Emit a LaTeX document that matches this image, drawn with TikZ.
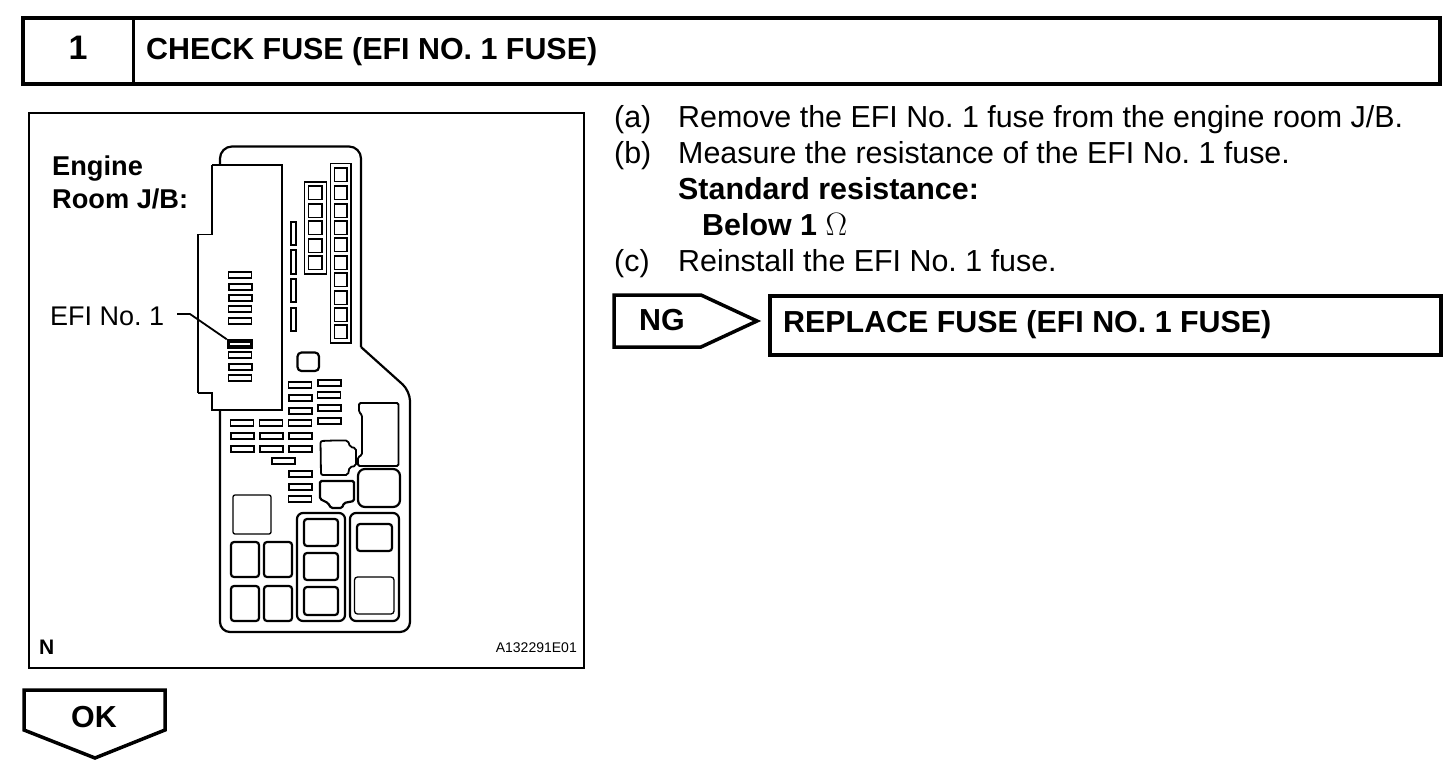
\documentclass[tikz,border=0pt]{standalone}
\usepackage{graphicx}
\usepackage{fontspec}
\setmainfont{Liberation Sans}
\frenchspacing
\tikzset{
    body/.style={anchor=base west, inner sep=0pt, font=\fontsize{30.4}{33}\selectfont},
    head/.style={body, font=\fontsize{30.4}{33}\selectfont\bfseries},
    label/.style={body, font=\fontsize{27}{29}\selectfont},
    fuse/.style={draw, rectangle, inner sep=0pt, minimum width=23pt, minimum height=6pt},
    thin_part/.style={line width=1.3pt},
    thick_part/.style={line width=2.2pt},
}
\begin{document}
\begin{tikzpicture}[x=1pt, y=-1pt, line join=miter]
    \useasboundingbox (0,0) rectangle (1456,772);

    \node[draw, rectangle, line width=4pt, inner sep=0pt, minimum width=1417pt, minimum height=66pt] (title_box) at (731.5,51) {};
    \node[head, anchor=base, font=\fontsize{34}{36}\selectfont\bfseries] (step_no) at (78,59) {1};
    \node[head] (title) at (146,59) {CHECK FUSE (EFI NO. 1 FUSE)};
    \draw[line width=3pt] (title_box.north west -| 133,0) -- (title_box.south west -| 133,0);

    \node[draw, rectangle, line width=2.5pt, inner sep=0pt, minimum width=555pt, minimum height=555pt] (panel) at (306.5,390.5) {};
    \node[head, font=\fontsize{27.2}{30}\selectfont\bfseries] (room_a) at (52,175) {Engine};
    \node[head, font=\fontsize{27.2}{30}\selectfont\bfseries] (room_b) at (52,208) {Room J/B:};
    \node[label] (efi_label) at (50,325) {EFI No. 1};
    \node[head, font=\fontsize{21}{24}\selectfont\bfseries] (corner_n) at (39,654) {N};
    \node[body, font=\fontsize{14}{16}\selectfont, anchor=base east] (part_no) at (577,652) {A132291E01};

    % fuse box
    \draw[thick_part, rounded corners=12pt] (220,165) -- (220,146.5) -- (361,146.5) -- (361,347);
    \draw[thick_part, rounded corners=10pt] (361,347) -- (410,391) -- (410,632) -- (220,632) -- (220,410);
    \draw[thick_part] (212,165) -- (282,165) -- (282,410) -- (212,410) -- (212,393) -- (198,393);
    \draw[thin_part] (212,165) -- (212,234.5) -- (198,234.5) -- (198,393);

    \foreach \y/\w in {275/1.2, 287/2, 298/2, 309/1.4, 321/1.6, 355/1.2, 367/2, 378/1.7}
        \node[fuse, line width=\w pt] (cover_\y) at (240,\y) {};
    \node[fuse, line width=3.4pt] (efi_fuse) at (240,344) {};

    \foreach \a/\b in {222/245, 250/274, 279/302, 308/331}
        \draw[line width=2pt] (290.5,\a) rectangle (295.5,\b);

    \draw[line width=1.8pt] (304.5,182) rectangle (326.5,274);
    \foreach \a in {186,204,221,239,256}
        \draw[line width=1.9pt] (308.5,\a) rectangle (322,\a+13.5);
    \draw[line width=1.8pt] (330.5,163.5) rectangle (351,343);
    \foreach \a in {168,186,204,221,238,256,273,291,308,325}
        \draw[line width=1.9pt] (334.5,\a) rectangle (347,\a+13.5);

    \draw[thick_part, rounded corners=4pt] (297.5,352.5) rectangle (319,371);

    \foreach \x/\y/\w in {300/385/1.2, 300/398/2, 300/411/2, 329/383/2, 329/395/1.2, 329/408/2, 329/421/2,
        242/423/1.2, 271/423/1.2, 300/423/1.2, 242/436/2, 271/436/2, 300/436/2, 242/449/2, 271/449/2, 300/449/2,
        283.5/461/1.5, 300/474/2, 300/487/2, 300/499/1.2}
        \node[fuse, line width=\w pt] (strip_\x_\y) at (\x,\y) {};

    \draw[line width=1.8pt, rounded corners=2pt] (334,440.5) -- (348,440.5) -- (350,447) -- (356,448) -- (356,466) -- (349.5,467) -- (348,475) -- (321,475) -- (320.5,441) -- (334,440.5);
    \draw[thick_part, rounded corners=1.5pt] (337,481) -- (354,481) -- (354,501) -- (344,503) -- (342,508) -- (331,508) -- (328,503) -- (320,499) -- (320,481) -- (337,481);
    \draw[line width=1.8pt, rounded corners=1.5pt] (380,403) -- (398.5,403) -- (398.5,466) -- (358,466) -- (358,457) -- (362,455) -- (362,415) -- (359,412) -- (359,403) -- (380,403);
    \draw[thick_part, rounded corners=7pt] (358,469) rectangle (400,507);
    \draw[thin_part, rounded corners=2pt] (233,495) rectangle (271,534);

    \foreach \x in {231,264}
        \foreach \y in {542,586}
            \draw[thick_part, rounded corners=3pt] (\x,\y) rectangle (\x+28,\y+35);

    \draw[thick_part, rounded corners=6pt] (297,513) rectangle (345,621);
    \draw[thick_part, rounded corners=3pt] (304,519) rectangle (338,546);
    \draw[thick_part, rounded corners=3pt] (304,553) rectangle (338,580);
    \draw[thick_part, rounded corners=3pt] (304,587) rectangle (338,615);
    \draw[thick_part, rounded corners=6pt] (350,513) rectangle (399,621);
    \draw[thick_part, rounded corners=3pt] (357,524) rectangle (392,551);
    \draw[thin_part, rounded corners=3pt] (354.5,577) rectangle (394,614);

    \coordinate (leader_start) at (177,314);
    \draw[line width=1.8pt] (leader_start) -- (190,314) -- (efi_fuse.north west);

    \node[body] (item_a) at (614,127.5) {(a)};
    \node[body] (item_a_text) at (678,127.5) {Remove the EFI No. 1 fuse from the engine room J/B.};
    \node[body] (item_b) at (614,163.5) {(b)};
    \node[body] (item_b_text) at (678,163.5) {Measure the resistance of the EFI No. 1 fuse.};
    \node[head] (standard) at (678,199.5) {Standard resistance:};
    \node[head] (below) at (702,235.5) {Below 1 \scalebox{1.3}{$\Omega$}};
    \node[body] (item_c) at (614,271.5) {(c)};
    \node[body] (item_c_text) at (678,271.5) {Reinstall the EFI No. 1 fuse.};

    \draw[line width=3.5pt] (614,295) -- (701,295) -- (757,321) -- (701,347) -- (614,347) -- cycle;
    \node[head] (ng) at (639,330) {NG};
    \node[draw, rectangle, line width=4pt, inner sep=0pt, minimum width=671pt, minimum height=59pt] (replace_box) at (1105.5,325) {};
    \node[head] (replace) at (783,332) {REPLACE FUSE (EFI NO. 1 FUSE)};

    \draw[line width=3.5pt] (24,690) -- (165,690) -- (165,730) -- (95,758) -- (24,730) -- cycle;
    \node[head] (ok) at (71,727) {OK};
\end{tikzpicture}
\end{document}
